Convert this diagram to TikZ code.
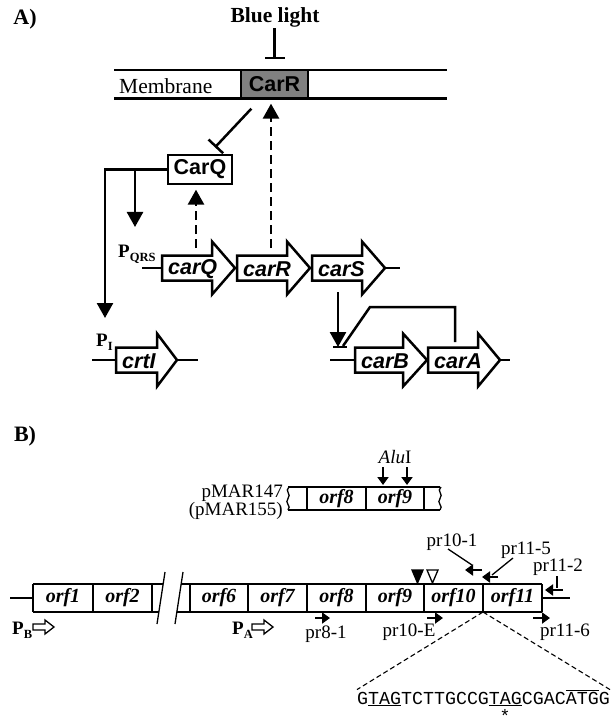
\documentclass[tikz,border=0pt]{standalone}
\usepackage{fontspec}
\setmainfont{Liberation Serif}
\setsansfont{Liberation Sans}
\setmonofont{Liberation Mono}
\usetikzlibrary{arrows.meta,calc}
\definecolor{carrgray}{RGB}{128,128,128}
\newcommand\fsz[1]{\fontsize{#1}{#1}\selectfont}
\newcommand\genearrow[6]{%
  \draw[gene] (#2,#5-12.5) -- (#3,#5-12.5) -- (#3,#5-26.5) -- (#4,#5) -- (#3,#5+26.5) -- (#3,#5+12.5) -- (#2,#5+12.5) -- cycle;
  \node[genetxt] (#1) at (#2+6,#5+1) {#6};
  \coordinate (#1-top) at (#2+34,#5-20);
}
\newcommand\hollowarrow[3]{%
  \draw[line width=1.3pt] (#2,#3-3) -- (#2+12,#3-3) -- (#2+12,#3-7) -- (#2+21,#3) -- (#2+12,#3+7) -- (#2+12,#3+3) -- (#2,#3+3) -- cycle;
  \coordinate (#1) at (#2,#3);
}
\newcommand\promlabel[1]{\bfseries\fsz{19}P\raisebox{-4pt}{\fsz{12.5}#1}}
\begin{document}
\begin{tikzpicture}[x=1pt,y=-1pt,
  gene/.style={draw=black, line width=2.5pt, fill=white},
  genetxt/.style={font=\sffamily\bfseries\itshape\fsz{21.5}, inner sep=0pt, anchor=west},
  lead/.style={line width=2.5pt},
  act/.style={line width=2.5pt, -{Triangle[length=15pt,width=16pt]}},
  dasharr/.style={line width=2.7pt, dash pattern=on 9pt off 5pt, -{Triangle[length=15pt,width=16pt]}},
  inh/.style={line width=2.5pt, -{Bar[width=20pt]}},
  sansbox/.style={draw, line width=1.3pt, font=\sffamily\bfseries\fsz{21.5}, inner sep=0pt},
  orfbox/.style={font=\bfseries\itshape\fsz{20}, inner sep=0pt},
  reg/.style={font=\fsz{19}, inner sep=0pt},
  primer/.style={line width=2.5pt, -{Triangle[length=8pt,width=11pt]}},
  thin/.style={line width=1.3pt},
  zoomline/.style={line width=1.1pt, dash pattern=on 5pt off 3pt},
]
\useasboundingbox (0,0) rectangle (615,727);

% ---------------- Part A ----------------
\node[font=\bfseries\fsz{22}, inner sep=0pt] (lblA) at (25,19) {A)};
\node[font=\bfseries\fsz{21.5}, inner sep=1pt] (blue) at (275,17) {Blue light};

\node[sansbox, fill=carrgray, minimum width=67pt, minimum height=29pt] (carR) at (274.5,84.5) {CarR};
\draw[line width=2pt] (114,70) -- (447,70);
\draw[line width=3pt] (114,99) -- (447,99);
\node[font=\fsz{21.5}, inner sep=0pt, anchor=west] (memb) at (119,86) {Membrane};

\draw[inh] (blue.south -| carR.north) -- ($(carR.north)+(0,-10)$);

\node[sansbox, fill=white, minimum width=64pt, minimum height=29pt] (carQ) at (200,169.5) {CarQ};
\draw[inh] ($(carR.south west)+(11,9)$) -- ($(carQ.north)+(15,-7)$);

% genes
\draw[lead] (142,268) -- (162,268);
\genearrow{carQg}{162}{212}{235}{268}{carQ}
\genearrow{carRg}{237}{287}{310}{268}{carR}
\genearrow{carSg}{312}{362}{385}{268}{carS}
\draw[lead] (385,268) -- (400,268);
\node[inner sep=0pt, anchor=base west] (pqrs) at (118,257) {\promlabel{QRS}};

\draw[lead] (92,360) -- (116,360);
\genearrow{crtIg}{116}{157}{177}{360}{crtI}
\draw[lead] (177,360) -- (198,360);
\node[inner sep=0pt, anchor=base west] (pi) at (96,346) {\promlabel{I}};

\draw[lead] (330,360) -- (355,360);
\genearrow{carBg}{355}{403}{427}{360}{carB}
\genearrow{carAg}{428}{478}{500}{360}{carA}
\draw[lead] (500,360) -- (510,360);

% dashed arrows
\draw[dasharr, shorten >=4pt] (carRg-top) -- (carRg-top |- carR.south);
\draw[dasharr, shorten >=5pt] (carQg-top) -- (carQg-top |- carQ.south);

% CarQ activation
\coordinate (pIarr) at (105,318);
\coordinate (pQRSarr) at (135,227);
\draw[act] (carQ.west) -| (pIarr);
\draw[act] (carQ.west -| pQRSarr) -- (pQRSarr);

% carS -> carB promoter, carA inhibition
\coordinate (promB) at (340,347);
\coordinate (carSbot) at (338,292);
\draw[line width=2.5pt] ($(promB)+(-7,0)$) -- ($(promB)+(7,0)$);
\draw[act] (carSbot) -- (carSbot |- promB);
\coordinate (carAtop) at (455,342);
\draw[line width=2.5pt] (carAtop) -- (455,307) -- (370,307) -- ($(promB)+(3,-1)$);

% ---------------- Part B ----------------
\node[font=\bfseries\fsz{22}, inner sep=0pt] (lblB) at (25,436) {B)};

\node[reg] (alu) at (395,457) {\itshape Alu\upshape I};
\coordinate (alu1) at (383,485);
\coordinate (alu2) at (407,485);
\draw[primer] (alu1 |- 0,467) -- (alu1);
\draw[primer] (alu2 |- 0,467) -- (alu2);

% pMAR box
\draw[thin] (288,487) -- (440,487);
\draw[thin] (288,510) -- (440,510);
\draw[thin] (307,487) -- (307,510);
\draw[thin] (366,487) -- (366,510);
\draw[thin] (424,487) -- (424,510);
\draw[thin] (289,487) .. controls (284,491) and (292,494) .. (288,498.5) .. controls (284,503) and (292,506) .. (288,510);
\draw[thin] (441,487) .. controls (436,491) and (444,494) .. (440,498.5) .. controls (436,503) and (444,506) .. (440,510);
\node[orfbox] (porf8) at (336.5,498.5) {orf8};
\node[orfbox] (porf9) at (395,498.5) {orf9};
\node[reg, anchor=base east] (pmar1) at (283,497) {pMAR147};
\node[reg, anchor=base east] (pmar2) at (283,515) {(pMAR155)};

% main row
\draw[thin] (10,598) -- (33,598);
\draw[thin] (542,598) -- (570,598);
\draw[thin] (33,584) -- (163.2,584);
\draw[thin] (33,612) -- (158.8,612);
\draw[thin] (181.2,584) -- (542,584);
\draw[thin] (176.8,612) -- (542,612);
\foreach \x in {33,93,152,190,248,307,366,424,483,542}
  \draw[thin] (\x,584) -- (\x,612);
\draw[thin] (157,624) -- (165,572);
\draw[thin] (175,624) -- (183,572);
\node[orfbox] (orf1) at (63,598) {orf1};
\node[orfbox] (orf2) at (122.5,598) {orf2};
\node[orfbox] (orf6) at (219,598) {orf6};
\node[orfbox] (orf7) at (277.5,598) {orf7};
\node[orfbox] (orf8) at (336.5,598) {orf8};
\node[orfbox] (orf9) at (395,598) {orf9};
\node[orfbox] (orf10) at (453.5,598) {orf10};
\node[orfbox] (orf11) at (512.5,598) {orf11};

% insertion triangles
\draw[thin, fill=black] (412,570) -- (423,570) -- (417.5,583) -- cycle;
\draw[thin, fill=white] (427,570) -- (438,570) -- (432.5,583) -- cycle;

% promoters
\node[inner sep=0pt, anchor=base west] (pB) at (12,634) {\promlabel{B}};
\hollowarrow{pBarr}{33}{627}
\node[inner sep=0pt, anchor=base west] (pA) at (232,634) {\promlabel{A}};
\hollowarrow{pAarr}{252}{627}

% primers
\coordinate (p81) at (330,618);
\coordinate (p10E) at (443,618);
\coordinate (p116) at (550,618);
\coordinate (p101) at (465,570);
\coordinate (p115) at (482,577);
\coordinate (p112) at (545,590);
\draw[primer] ($(p81)+(-15,0)$) -- (p81);
\draw[primer] ($(p10E)+(-16,0)$) -- (p10E);
\draw[primer] ($(p116)+(-17,0)$) -- (p116);
\draw[primer] ($(p101)+(17,0)$) -- (p101);
\draw[primer] ($(p115)+(16,0)$) -- (p115);
\draw[primer] ($(p112)+(18,0)$) -- (p112);
\node[reg] (l81) at (326,634) {pr8-1};
\node[reg] (l10E) at (409,632) {pr10-E};
\node[reg] (l116) at (565,632) {pr11-6};
\node[reg] (l101) at (452,542) {pr10-1};
\node[reg] (l115) at (526,550) {pr11-5};
\node[reg] (l112) at (558,567) {pr11-2};
\draw[thin] (448,549) -- (472,565);
\draw[thin] (513,558) -- (492,575);
\draw[thin] (557,576) -- (557,588);

% zoomed sequence
\coordinate (junc) at (483,612);
\node[font=\ttfamily\fsz{18.3}, inner sep=0pt, anchor=west] (seq) at (357,698)
  {G\underline{TAG}TCTTGCCG\underline{TAG}CGAC$\overline{\hbox{ATG}}$G};
\draw[zoomline] (junc) -- (seq.north west);
\draw[zoomline] (junc) -- (seq.north east);
\node[font=\ttfamily\fsz{18}, inner sep=0pt] (ast) at (505,716) {*};
\end{tikzpicture}
\end{document}
